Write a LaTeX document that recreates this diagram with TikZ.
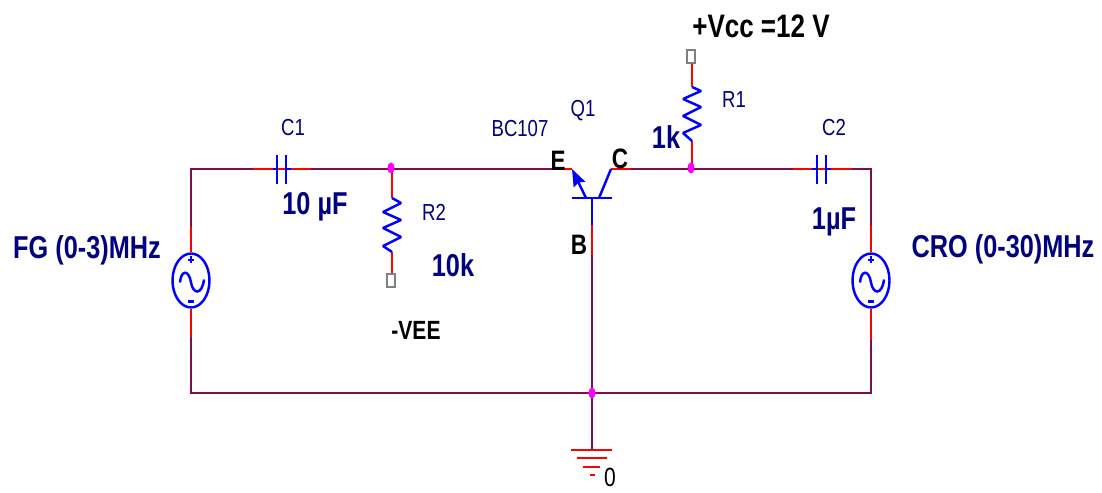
\documentclass[tikz,border=0pt]{standalone}
\usepackage{fontspec}
\setmainfont{Liberation Sans}[FakeStretch=0.8]
\usetikzlibrary{shapes.geometric,arrows.meta}
\definecolor{wirecol}{HTML}{7B0F4F}
\definecolor{navylab}{HTML}{000080}
\definecolor{dotcol}{HTML}{FF00FF}
\definecolor{leadcol}{HTML}{FF0000}
\definecolor{partcol}{HTML}{0000FF}
\tikzset{
    wire/.style={wirecol,line width=1.6pt},
    lead/.style={leadcol,line width=1.6pt},
    part/.style={partcol,line width=1.4pt},
    junction/.style={ellipse,fill=dotcol,inner sep=0pt,minimum width=0.14cm,minimum height=0.22cm},
    source/.style={ellipse,draw=partcol,line width=1.4pt,inner sep=0pt,minimum width=0.74cm,minimum height=1.08cm},
    terminal/.style={draw=gray,fill=white,line width=1.3pt,inner sep=0pt,minimum width=0.17cm,minimum height=0.25cm},
    reflab/.style={navylab,font=\fontsize{13.2}{14}\selectfont},
    vallab/.style={navylab,font=\fontsize{18}{20}\selectfont\bfseries},
    pinlab/.style={black,font=\fontsize{16}{18}\selectfont\bfseries},
}
\begin{document}
\begin{tikzpicture}[x=0.02cm,y=-0.02cm]
    \useasboundingbox (0,0) rectangle (1102,493);
    \coordinate (TL) at (191,169);
    \coordinate (TR) at (871,169);
    \coordinate (BL) at (191,393);
    \coordinate (BR) at (871,393);
    \coordinate (C1a) at (253,169);
    \coordinate (C1l) at (277,169);
    \coordinate (C1r) at (286,169);
    \coordinate (C1b) at (311,169);
    \coordinate (C2a) at (793,169);
    \coordinate (C2l) at (817,169);
    \coordinate (C2r) at (826,169);
    \coordinate (C2b) at (852,169);
    \coordinate (Ea) at (553,169);
    \coordinate (Eb) at (572,169);
    \coordinate (Ca) at (611,169);
    \coordinate (Cb) at (631,169);
    \coordinate (Q0) at (592,198);
    \coordinate (Qe) at (586,198);
    \coordinate (Qc) at (599,198);
    \coordinate (Qb) at (592,225);
    \coordinate (Qr) at (592,255);
    \coordinate (GND) at (592,450);
    \coordinate (R1t) at (692,87);
    \coordinate (R1b) at (692,141);
    \coordinate (R2t) at (392,198);
    \coordinate (R2b) at (392,252);
    \coordinate (V1a) at (191,227);
    \coordinate (V1b) at (191,337);
    \coordinate (V2a) at (871,225);
    \coordinate (V2b) at (871,340);

    % wires
    \draw[wire] (V1a) -- (TL) -- (C1a);
    \draw[wire] (C1b) -- (Ea);
    \draw[wire] (Cb) -- (C2a);
    \draw[wire] (C2b) -- (TR) -- (V2a);
    \draw[wire] (V1b) -- (BL) -- (BR) -- (V2b);
    \draw[wire] (Qr) -- (GND);

    \node[source] (V1) at (191,280.5) {};
    \node[source] (V2) at (871,280.5) {};
    \node[terminal] (T1) at (691,56.5) {};
    \node[terminal] (T2) at (391,280.5) {};

    % red leads
    \draw[lead] (C1a) -- (C1b);
    \draw[lead] (C2a) -- (C2b);
    \draw[lead] (Ea) -- (Eb);
    \draw[lead] (Ca) -- (Cb);
    \draw[lead] (Qb) -- (Qr);
    \draw[lead] (392,169) -- (R2t);
    \draw[lead] (692,169) -- (R1b);
    \draw[lead] (R1t) -- (T1.south -| R1t);
    \draw[lead] (R2b) -- (T2.north -| R2b);
    \draw[lead] (V1.north) -- (V1a);
    \draw[lead] (V1.south) -- (V1b);
    \draw[lead] (V2.north) -- (V2a);
    \draw[lead] (V2.south) -- (V2b);

    \node[junction] (J1) at (391,168) {};
    \node[junction] (J2) at (691,168) {};
    \node[junction] (J3) at (592,393) {};

    % capacitors
    \draw[part] (273,169) -- (C1l) (C1r) -- (291,169);
    \draw[part] (C1l) ++(0,-14) -- ++(0,29) (C1r) ++(0,-14) -- ++(0,29);
    \draw[part] (812,169) -- (C2l) (C2r) -- (831,169);
    \draw[part] (C2l) ++(0,-14) -- ++(0,29) (C2r) ++(0,-14) -- ++(0,29);

    % resistors
    \draw[part,line join=bevel] (R1t) -- ++(9,4) -- ++(-18,8) -- ++(18,8) -- ++(-18,9) -- ++(18,9) -- ++(-18,8) -- (R1b);
    \draw[part,line join=bevel] (R2t) -- ++(9,5) -- ++(-18,9) -- ++(18,8) -- ++(-18,8) -- ++(18,9) -- ++(-18,9) -- (R2b);

    % transistor
    \draw[part] (572,198) -- (612,198); % bar
    \draw[part] (Q0) -- (Qb);
    \draw[part] (Ca) -- (Qc);
    \draw[part,-{Stealth[length=3.4mm,width=2.5mm,inset=0.4mm]}] (Qe) -- (Eb);

    % ground
    \draw[lead] (571,450) -- (612,450);
    \draw[lead] (577,458) -- (607,458);
    \draw[lead] (583,467) -- (600,467);
    \draw[lead] (590,475) -- (595,475);

    % sources
    \foreach \x in {191,871} {
        \begin{scope}[shift={(\x,280.5)}]
            \draw[part] (-11,2) .. controls (-10,-11) and (-2,-11) .. (0,2) .. controls (2,14) and (11,15) .. (13,-1);
            \draw[part,line width=1pt] (0,-24) -- (0,-17) (-3,-20.5) -- (3,-20.5);
            \draw[part,line width=1.2pt] (-3,21) -- (3,21);
        \end{scope}
    }

    \node[reflab] (C1) at (293,128) {C1};
    \node[reflab] (C2) at (834,128) {C2};
    \node[reflab] (R1) at (734,100) {R1};
    \node[reflab] (R2) at (434,212) {R2};
    \node[reflab] (Q1) at (583,111) {Q1};
    \node[reflab] (BC) at (520,129) {BC107};
    \node[pinlab,font=\fontsize{15}{16}\selectfont,inner sep=0pt] (G0) at (610,477) {0};

    \node[vallab] (C1v) at (315,207) {10 µF};
    \node[vallab] (C2v) at (834,222) {1µF};
    \node[vallab] (R1v) at (666,137) {1k};
    \node[vallab] (R2v) at (453,265) {10k};
    \node[vallab] (FG) at (87,250) {FG (0-3)MHz};
    \node[vallab] (CRO) at (1003,249) {CRO (0-30)MHz};
    \node[vallab,black,font=\fontsize{18.5}{20}\selectfont\bfseries] (VCC) at (761,26) {+Vcc =12 V};
    \node[pinlab,font=\fontsize{15}{16}\selectfont\bfseries] (VEE) at (416,330) {-VEE};
    \node[pinlab] (E) at (558,161) {E};
    \node[pinlab] (Cp) at (620,159) {C};
    \node[pinlab] (B) at (579,245) {B};
\end{tikzpicture}
\end{document}
